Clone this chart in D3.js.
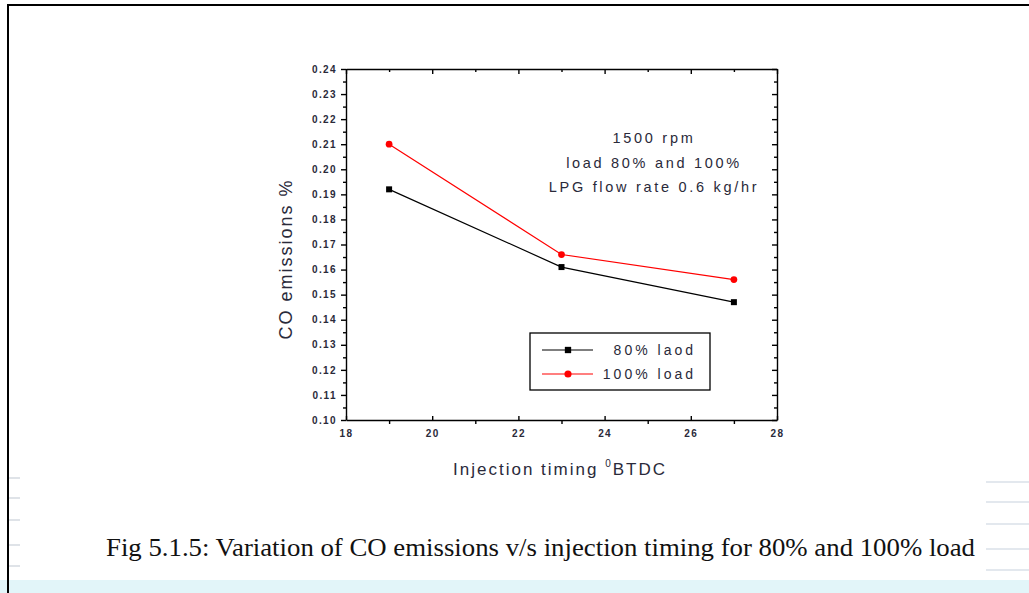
<!DOCTYPE html>
<html>
<head>
<meta charset="utf-8">
<script src="https://cdn.jsdelivr.net/npm/d3@7"></script>
<style>
  body { margin: 0; background: #fff; }
  svg { display: block; }
</style>
</head>
<body>
<svg></svg>
<script>
// data
let timing = [19, 23, 27];
let load80 = [0.192, 0.161, 0.147];
let load100 = [0.210, 0.166, 0.156];
let seriesNames = ['80% laod', '100% load'];
let yTicks = [0.10, 0.11, 0.12, 0.13, 0.14, 0.15, 0.16, 0.17, 0.18, 0.19, 0.20, 0.21, 0.22, 0.23, 0.24];
let xTicks = [18, 20, 22, 24, 26, 28];
let noteLines = ['1500 rpm', 'load 80% and 100%', 'LPG flow rate 0.6 kg/hr'];
let caption = 'Fig 5.1.5: Variation of CO emissions v/s injection timing for 80% and 100% load';

let width = 1029, height = 593;
let plotLeft = 346, plotRight = 777, plotTop = 69, plotBottom = 420;
let svg = d3.select('svg').attr('width', width).attr('height', height);
let ink = '#2a2a3a';

// page background bits around the figure
svg.append('rect').attr('x', 0).attr('y', 580).attr('width', width).attr('height', 13)
    .attr('fill', '#e2f5f9');
[478, 498, 520, 545, 566].forEach((yy) => {
    svg.append('line').attr('x1', 9).attr('x2', 20).attr('y1', yy).attr('y2', yy)
        .attr('stroke', '#dfe3e8').attr('stroke-width', 2);
    svg.append('line').attr('x1', 986).attr('x2', 1029).attr('y1', yy + 4).attr('y2', yy + 4)
        .attr('stroke', '#e3e8ee').attr('stroke-width', 2);
});
// outer frame of the page image
svg.append('path').attr('d', `M8,593 V5 H1029`).attr('fill', 'none')
    .attr('stroke', '#000').attr('stroke-width', 2);

// scales
let x = d3.scaleLinear().domain([18, 28]).range([plotLeft, plotRight]);
let y = d3.scaleLinear().domain([0.10, 0.24]).range([plotBottom, plotTop]);

let minorX = d3.range(19, 28, 2);
let minorY = d3.range(0.105, 0.24, 0.01);

// bottom axis: labelled majors point inward, minors point outward
svg.append('g').attr('transform', `translate(0,${plotBottom})`)
    .call(d3.axisBottom(x).tickValues(xTicks).tickSizeInner(-4).tickSizeOuter(0).tickPadding(10));
svg.append('g').attr('transform', `translate(0,${plotBottom})`)
    .call(d3.axisBottom(x).tickValues(minorX).tickSize(4).tickFormat(''))
    .select('.domain').remove();

// left axis
svg.append('g').attr('transform', `translate(${plotLeft},0)`)
    .call(d3.axisLeft(y).tickValues(yTicks).tickSize(5).tickSizeOuter(0).tickPadding(4)
        .tickFormat(d3.format('.2f')));
svg.append('g').attr('transform', `translate(${plotLeft},0)`)
    .call(d3.axisLeft(y).tickValues(minorY).tickSize(3).tickFormat(''))
    .select('.domain').remove();

// top and right axes, ticks inward
svg.append('g').attr('transform', `translate(0,${plotTop})`)
    .call(d3.axisTop(x).tickValues(xTicks).tickSize(-5).tickSizeOuter(0).tickFormat(''));
svg.append('g').attr('transform', `translate(0,${plotTop})`)
    .call(d3.axisTop(x).tickValues(minorX).tickSize(-3).tickFormat(''))
    .select('.domain').remove();
svg.append('g').attr('transform', `translate(${plotRight},0)`)
    .call(d3.axisRight(y).tickValues(yTicks).tickSize(-5).tickSizeOuter(0).tickFormat(''));
svg.append('g').attr('transform', `translate(${plotRight},0)`)
    .call(d3.axisRight(y).tickValues(minorY).tickSize(-3).tickFormat(''))
    .select('.domain').remove();

svg.selectAll('.domain, .tick line').attr('stroke', '#000').attr('stroke-width', 1.4);
svg.selectAll('.tick text').attr('font-family', 'Liberation Sans').attr('font-size', 10)
    .attr('font-weight', 'bold').attr('letter-spacing', 1.4).attr('fill', ink);

// axis titles
svg.append('text').attr('transform', `translate(292,259) rotate(-90)`)
    .attr('text-anchor', 'middle').attr('font-family', 'Liberation Sans').attr('font-size', 18)
    .attr('letter-spacing', 2).attr('fill', ink).text('CO emissions %');
let xt = svg.append('text').attr('x', 560).attr('y', 475).attr('text-anchor', 'middle')
    .attr('font-family', 'Liberation Sans').attr('font-size', 17).attr('fill', ink)
    .attr('letter-spacing', 2);
xt.append('tspan').text('Injection timing ');
xt.append('tspan').attr('font-size', 10).attr('dy', -8).text('0');
xt.append('tspan').attr('dy', 8).text('BTDC');

// series
let series = [
    { name: seriesNames[0], values: load80, color: '#000', shape: d3.symbolSquare },
    { name: seriesNames[1], values: load100, color: '#ff0000', shape: d3.symbolCircle }
];
let line = d3.line().x((d, i) => x(timing[i])).y((d) => y(d));

series.forEach((s) => {
    svg.append('path').datum(s.values).attr('d', line).attr('fill', 'none')
        .attr('stroke', s.color).attr('stroke-width', 1.2);
    svg.selectAll(null).data(s.values).enter().append('path')
        .attr('d', d3.symbol().type(s.shape).size(36))
        .attr('transform', (d, i) => `translate(${x(timing[i])},${y(d)})`)
        .attr('fill', s.color);
});

// annotation
svg.selectAll('.note').data(noteLines).enter().append('text')
    .attr('x', 654).attr('y', (d, i) => 143 + i * 24.5).attr('text-anchor', 'middle')
    .attr('font-family', 'Liberation Sans').attr('font-size', 14.5).attr('letter-spacing', 2.7)
    .attr('fill', ink).text((d) => d);

// legend
let legend = svg.append('g');
legend.append('rect').attr('x', 530).attr('y', 333).attr('width', 180).attr('height', 57)
    .attr('fill', '#fff').attr('stroke', '#000').attr('stroke-width', 1.3);
series.forEach((s, i) => {
    let ly = 350 + i * 24;
    legend.append('line').attr('x1', 542).attr('x2', 593).attr('y1', ly).attr('y2', ly)
        .attr('stroke', s.color).attr('stroke-width', 1.2);
    legend.append('path').attr('d', d3.symbol().type(s.shape).size(40))
        .attr('transform', `translate(568,${ly})`).attr('fill', s.color);
    legend.append('text').attr('x', 696).attr('y', ly + 5).attr('text-anchor', 'end')
        .attr('font-family', 'Liberation Sans').attr('font-size', 14).attr('letter-spacing', 3)
        .attr('fill', ink).text(s.name);
});

// caption
svg.append('text').attr('x', 106).attr('y', 556).attr('font-family', 'Liberation Serif')
    .attr('font-size', 26).attr('fill', '#111').attr('textLength', 869)
    .attr('lengthAdjust', 'spacingAndGlyphs').text(caption);
</script>
</body>
</html>
